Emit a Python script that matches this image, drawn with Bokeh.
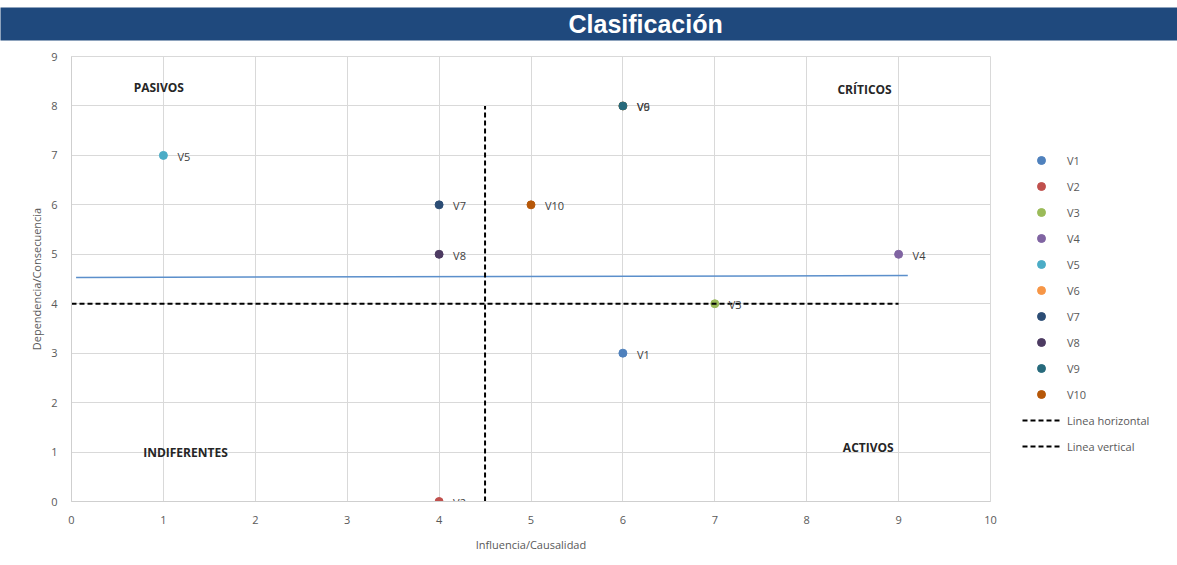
from bokeh.plotting import figure
from bokeh.models import Range1d, SingleIntervalTicker, Legend, LegendItem, ColumnDataSource, Title
from bokeh.embed import file_html
from bokeh.resources import INLINE
from bokeh.core.properties import value

# ---------------- data ----------------
names = ["V1", "V2", "V3", "V4", "V5", "V6", "V7", "V8", "V9", "V10"]
influencia = [6, 4, 7, 9, 1, 6, 4, 4, 6, 5]
dependencia = [3, 0, 4, 5, 7, 8, 6, 5, 8, 6]
colors = ["#4F81BD", "#C0504D", "#9BBB59", "#8064A2", "#4BACC6",
          "#F79646", "#2C4D75", "#4D3B62", "#276A7C", "#B65708"]

hline_x = [0, 9]
hline_y = [4, 4]
vline_x = [4.5, 4.5]
vline_y = [0, 8]
trend_x = [0.05, 9.1]
trend_y = [4.53, 4.57]

quad_labels = ["PASIVOS", "CRÍTICOS", "INDIFERENTES", "ACTIVOS"]
quad_x = [0.95, 8.63, 1.24, 8.67]
quad_y = [8.38, 8.34, 0.99, 1.09]

tick_interval = 1
title_text = "Clasificación"
x_title = "Influencia/Causalidad"
y_title = "Dependencia/Consecuencia"

FONT = "Open Sans"
GREY = "#595959"

p = figure(frame_width=919, frame_height=445, output_backend="svg", toolbar_location=None,
           x_range=Range1d(0, 10), y_range=Range1d(0, 9), title=None,
           min_border_left=71, min_border_right=187, min_border_top=56, min_border_bottom=64,
           background_fill_color="white", border_fill_color="white")
p.outline_line_color = "#D9D9D9"
p.grid.grid_line_color = "#D9D9D9"
p.xaxis.ticker = SingleIntervalTicker(interval=tick_interval)
p.yaxis.ticker = SingleIntervalTicker(interval=tick_interval)
for ax in (p.xaxis[0], p.yaxis[0]):
    ax.axis_line_color = "#CFCFCF"
    ax.major_tick_line_color = None
    ax.minor_tick_line_color = None
    ax.major_label_text_font = FONT
    ax.major_label_text_font_size = "11px"
    ax.major_label_text_color = GREY
    ax.major_label_standoff = 8
    ax.axis_label_text_font = FONT
    ax.axis_label_text_font_size = "11px"
    ax.axis_label_text_color = GREY
    ax.axis_label_text_font_style = "normal"
p.xaxis.axis_label = x_title
p.yaxis.axis_label = y_title
p.xaxis.axis_label_standoff = 10
p.yaxis.axis_label_standoff = 4

# spacer between frame and title bar
spacer = Title(text=" ", text_font_size="1px", standoff=11, text_color="white")
p.add_layout(spacer, "above")
# title bar (title background stretched across the page)
title = Title(text=title_text, align="left", offset=-71, standoff=0, vertical_align="top",
              text_color="white", text_font="Liberation Sans", text_font_style="bold",
              text_font_size="25px", background_fill_color="#1F497D",
              padding=dict(left=568, right=455, top=2, bottom=3))
p.add_layout(title, "above")

items = []
for i, nm in enumerate(names):
    src = ColumnDataSource(dict(x=[influencia[i]], y=[dependencia[i]]))
    r = p.scatter("x", "y", source=src, size=8, fill_color=colors[i], line_color=colors[i])
    items.append(LegendItem(label=nm, renderers=[r]))

p.line(trend_x, trend_y, line_color="#5B8FCB", line_width=1.5)

rh = p.line(hline_x, hline_y, line_color="black", line_width=2, line_dash="5 3")
rv = p.line(vline_x, vline_y, line_color="black", line_width=2, line_dash="5 3")
items.append(LegendItem(label="Linea horizontal", renderers=[rh]))
items.append(LegendItem(label="Linea vertical", renderers=[rv]))

lab_src = ColumnDataSource(dict(x=influencia, y=dependencia, t=names))
p.text("x", "y", text="t", source=lab_src, x_offset=14, y_offset=1,
       text_font=value(FONT), text_font_size="11px", text_color="#404040",
       text_baseline="middle", text_align="left")

q_src = ColumnDataSource(dict(x=quad_x, y=quad_y, t=quad_labels))
p.text("x", "y", text="t", source=q_src, text_font=value(FONT), text_font_style="bold",
       text_font_size="12px", text_color="#262626", text_align="center", text_baseline="middle")

legend = Legend(items=items, location=(32, 45), margin=0, padding=5,
                glyph_width=38, glyph_height=20, label_height=20, spacing=6,
                label_standoff=7, label_text_font=FONT, label_text_font_size="11px",
                label_text_color=GREY, border_line_color=None, background_fill_alpha=0)
p.add_layout(legend, "right")

open("out.html", "w").write(file_html(p, INLINE))
